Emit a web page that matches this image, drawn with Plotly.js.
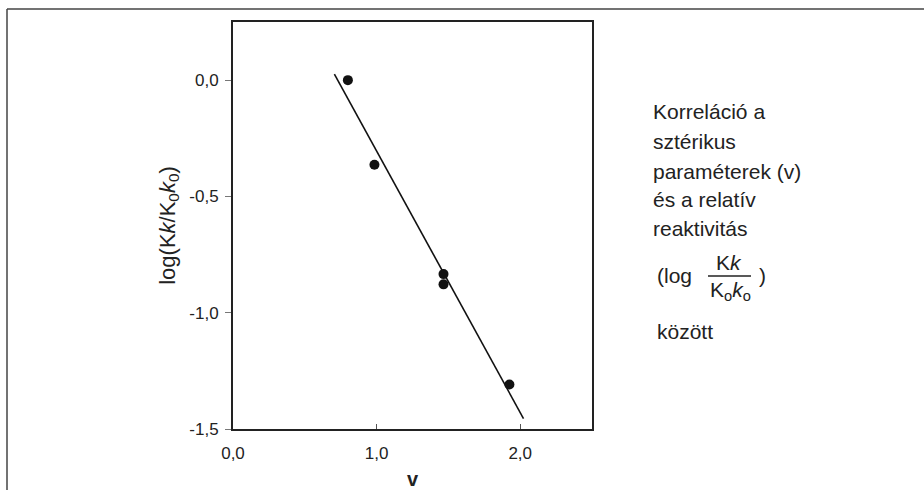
<!DOCTYPE html>
<html>
<head>
<meta charset="utf-8">
<script src="https://cdn.plot.ly/plotly-3.0.1.min.js"></script>
<style>
html,body{margin:0;padding:0;background:#fff;}
#chart{width:924px;height:490px;}
</style>
</head>
<body>
<div id="chart"></div>
<script>
// Data
const stericV = [0.80, 0.985, 1.466, 1.466, 1.925];
const logRel = [0.0, -0.364, -0.834, -0.878, -1.309];
const fitX = [0.706, 2.023];
const fitY = [0.026, -1.455];
const xTickVals = [0, 1, 2];
const xTickText = ["0,0", "1,0", "2,0"];
const yTickVals = [0, -0.5, -1, -1.5];
const yTickText = ["0,0", "-0,5", "-1,0", "-1,5"];
const sideLines = ["Korreláció a", "sztérikus", "paraméterek (v)", "és a relatív", "reaktivitás"];

const FONT = "Liberation Sans, Arial, Helvetica, sans-serif";
const W = 924, H = 490;
const M = {l: 233, r: 332, t: 22, b: 61};
const pw = W - M.l - M.r, ph = H - M.t - M.b;
const px = x => (x - M.l) / pw;          // pixel -> paper x
const py = y => (H - M.b - y) / ph;      // pixel -> paper y

const traces = [
  {x: fitX, y: fitY, mode: "lines", type: "scatter",
   line: {color: "#111", width: 1.6}, hoverinfo: "skip", showlegend: false},
  {x: stericV, y: logRel, mode: "markers", type: "scatter",
   marker: {color: "#111", size: 10}, showlegend: false}
];

const TXT = {family: FONT, size: 21, color: "#222"};
const annotations = [];
const lineY = [111.7, 141.7, 171.7, 200, 228.3];
sideLines.forEach((t, i) => {
  annotations.push({xref: "paper", yref: "paper", x: px(651), y: py(lineY[i]),
    xanchor: "left", yanchor: "middle", showarrow: false, text: t, font: TXT});
});
annotations.push({xref: "paper", yref: "paper", x: px(655), y: py(275), xanchor: "left", yanchor: "middle",
  showarrow: false, text: "(log", font: TXT});
annotations.push({xref: "paper", yref: "paper", x: px(729), y: py(262), xanchor: "center", yanchor: "middle",
  showarrow: false, text: "K<i>k</i>", font: TXT});
annotations.push({xref: "paper", yref: "paper", x: px(730), y: py(291), xanchor: "center", yanchor: "middle",
  showarrow: false, text: "K<sub>o</sub><i>k</i><sub>o</sub>", font: TXT});
annotations.push({xref: "paper", yref: "paper", x: px(762), y: py(275), xanchor: "center", yanchor: "middle",
  showarrow: false, text: ")", font: TXT});
annotations.push({xref: "paper", yref: "paper", x: px(655), y: py(331), xanchor: "left", yanchor: "middle",
  showarrow: false, text: "között", font: TXT});

const shapes = [
  // fraction bar
  {type: "line", xref: "paper", yref: "paper", x0: px(708), x1: px(751), y0: py(276), y1: py(276),
   line: {color: "#222", width: 1.5}},
  // outer frame (top and left edges)
  {type: "line", xref: "paper", yref: "paper", x0: px(7), x1: px(924), y0: py(9), y1: py(9),
   line: {color: "#444", width: 1.5}},
  {type: "line", xref: "paper", yref: "paper", x0: px(7), x1: px(7), y0: py(9), y1: py(490),
   line: {color: "#444", width: 1.5}}
];

const layout = {
  width: W, height: H,
  margin: M,
  paper_bgcolor: "#fff", plot_bgcolor: "#fff",
  font: {family: FONT, color: "#222"},
  showlegend: false,
  xaxis: {
    range: [0, 2.5], tickvals: xTickVals, ticktext: xTickText,
    ticks: "inside", ticklen: 5, tickcolor: "#555", tickwidth: 1,
    showgrid: false, zeroline: false,
    showline: true, linecolor: "#222", linewidth: 2, mirror: true,
    tickfont: {family: FONT, size: 17, color: "#222"},
    ticklabelstandoff: 8,
    title: {text: "<b>v</b>", font: {family: FONT, size: 20, color: "#222"}, standoff: 16}
  },
  yaxis: {
    range: [-1.5, 0.25], tickvals: yTickVals, ticktext: yTickText,
    ticks: "outside", ticklen: 6, tickcolor: "#777", tickwidth: 1,
    showgrid: false, zeroline: false,
    showline: true, linecolor: "#222", linewidth: 2, mirror: true,
    tickfont: {family: FONT, size: 17, color: "#222"},
    ticklabelstandoff: 3,
    title: {text: "log(K<i>k</i>/K<sub>0</sub><i>k</i><sub>0</sub>)", font: {family: FONT, size: 22, color: "#222"}, standoff: 8}
  },
  annotations: annotations,
  shapes: shapes
};

Plotly.newPlot("chart", traces, layout, {displayModeBar: false, staticPlot: true});
</script>
</body>
</html>
